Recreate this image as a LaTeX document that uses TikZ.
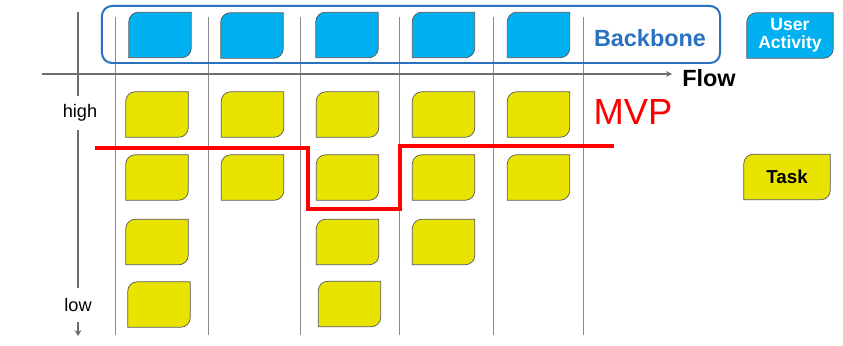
\documentclass[tikz,border=0pt]{standalone}
\usepackage{fontspec}
\setmainfont{Liberation Sans}
\usetikzlibrary{arrows.meta, backgrounds}
\definecolor{cardyellow}{HTML}{E8E400}
\definecolor{cardblue}{HTML}{00B0F0}
\definecolor{boneblue}{HTML}{2A72C0}
\definecolor{axisgrey}{HTML}{6E6E6E}
\definecolor{mvpred}{HTML}{FF0000}
\tikzset{
  card/.style={rectangle, minimum width=1.86cm, minimum height=1.35cm, inner sep=0pt},
  cardwide/.style={card, minimum width=2.58cm, align=center},
  cardline/.style={draw=black!65, line width=0.6pt},
  lane/.style={draw=black!45, line width=0.7pt},
  axis/.style={draw=axisgrey, line width=1.8pt},
  axislabel/.style={font=\fontsize{15.5}{16}\selectfont, inner sep=0pt},
  mvpline/.style={draw=mvpred, line width=3.4pt},
}

\begin{document}
\begin{tikzpicture}[x=0.03cm, y=-0.03cm]
\useasboundingbox (0,0) rectangle (843,346);

% swim lanes
\foreach \x in {115,208,300,399,493,583}
  \draw[lane] (\x,17) -- (\x,335);

% backbone
\node[draw=boneblue, line width=1.7pt, rounded corners=8.5pt, minimum width=18.54cm, minimum height=1.71cm] (bone) at (411,34.5) {};
\node[text=boneblue, font=\bfseries\fontsize{20}{20}\selectfont] (bonetxt) at (650,38) {Backbone};
\node[card] (act1) at (160,35) {};
\node[card] (act2) at (252,35.5) {};
\node[card] (act3) at (347,35) {};
\node[card] (act4) at (443.5,35) {};
\node[card] (act5) at (538.5,35) {};

% tasks
\node[card] (t11) at (157,114.5) {};
\node[card] (t12) at (157,177.5) {};
\node[card] (t13) at (157,242) {};
\node[card] (t14) at (159,304.5) {};
\node[card] (t21) at (252.5,114.5) {};
\node[card] (t22) at (252.5,177.5) {};
\node[card] (t31) at (347.5,114.5) {};
\node[card] (t32) at (347.5,177.5) {};
\node[card] (t33) at (347.5,242) {};
\node[card] (t34) at (349.5,304) {};
\node[card] (t41) at (443.5,114.5) {};
\node[card] (t42) at (443.5,177.5) {};
\node[card] (t43) at (443.5,242) {};
\node[card] (t51) at (538.5,114.5) {};
\node[card] (t52) at (538.5,177.5) {};

% legend
\node[cardwide, text=white, font=\bfseries\fontsize{15}{15.5}\selectfont] (useract) at (790,35.5) {User\\Activity};
\node[cardwide, font=\bfseries\fontsize{16}{16}\selectfont] (tasklg) at (787,177) {Task};

\begin{scope}[on background layer]
  \foreach \c/\col in {act1/cardblue, act2/cardblue, act3/cardblue, act4/cardblue, act5/cardblue, useract/cardblue,
      t11/cardyellow, t12/cardyellow, t13/cardyellow, t14/cardyellow, t21/cardyellow, t22/cardyellow,
      t31/cardyellow, t32/cardyellow, t33/cardyellow, t34/cardyellow, t41/cardyellow, t42/cardyellow,
      t43/cardyellow, t51/cardyellow, t52/cardyellow, tasklg/cardyellow}
    \filldraw[cardline, fill=\col] ([yshift=-8pt]\c.north west)
      .. controls ([yshift=-3.6pt]\c.north west) and ([xshift=3.6pt]\c.north west) .. ([xshift=8pt]\c.north west)
      -- (\c.north east) -- ([yshift=8pt]\c.south east)
      .. controls ([yshift=3.6pt]\c.south east) and ([xshift=-3.6pt]\c.south east) .. ([xshift=-8pt]\c.south east)
      -- (\c.south west) -- cycle;
\end{scope}

% axes
\coordinate (flowstart) at (42,74);
\coordinate (flowend) at (672,74);
\node[font=\bfseries\fontsize{20}{20}\selectfont, inner sep=0pt] (flow) at (709,78) {Flow};
\draw[axis, line width=1.6pt, -{Stealth[length=5pt, width=5pt]}] (flowstart) -- (flowend);

\coordinate (prtop) at (78,12);
\coordinate (prend) at (78,336);
\node[axislabel, minimum height=29pt] (high) at (80,113) {high};
\node[axislabel, minimum height=29pt] (low) at (78,305) {low};
\draw[axis, line width=2.5pt] (prtop) -- (prtop |- high.north);
\draw[axis, line width=2.5pt] (prtop |- high.south) -- (prtop |- low.north);
\draw[axis, line width=2.5pt, -{Stealth[length=5pt, width=6pt]}] (prtop |- low.south) -- (prend);

% MVP cut
\draw[mvpline] (95,148) -- (308,148) -- (308,209) -- (400,209) -- (400,146) -- (614,146);
\node[text=mvpred, font=\fontsize{31}{31}\selectfont] (mvp) at (633,112) {MVP};
\end{tikzpicture}
\end{document}
